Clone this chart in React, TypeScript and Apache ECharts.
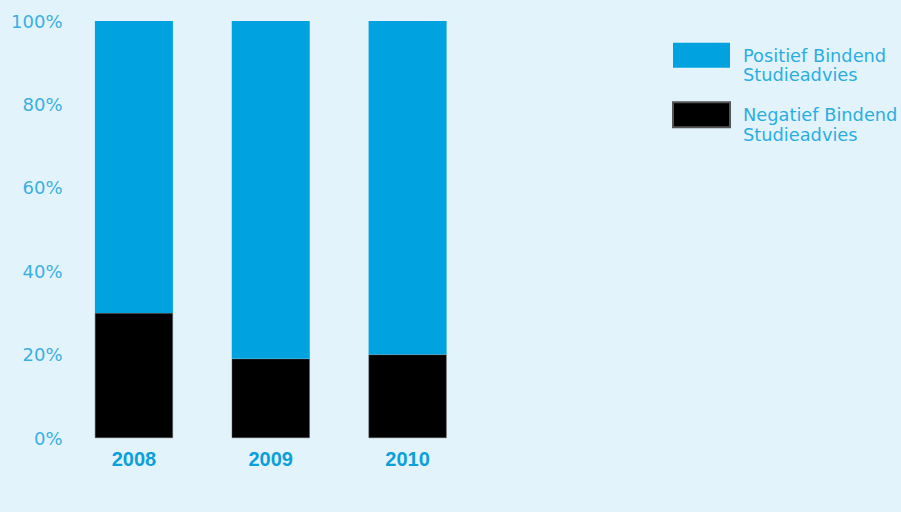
import React, { useEffect, useRef } from "react";
import * as echarts from "echarts";

const years = ["2008", "2009", "2010"];
const negatief = [30, 19, 20];
const positief = [70, 81, 80];
const yTicks = [0, 20, 40, 60, 80, 100];
const seriesNames = ["Positief Bindend\nStudieadvies", "Negatief Bindend\nStudieadvies"];

export default function App() {
  const ref = useRef<HTMLDivElement>(null);
  useEffect(() => {
    document.body.style.margin = "0";
    const chart = echarts.init(ref.current!, undefined, { renderer: "svg" });
    chart.setOption({
      animation: false,
      backgroundColor: "#e3f3fb",
      textStyle: { fontFamily: "DejaVu Sans, sans-serif" },
      grid: { left: 65.5, right: 425, top: 21, bottom: 74 },
      legend: {
        data: [seriesNames[0], seriesNames[1]],
        orient: "vertical",
        left: 672,
        top: 26,
        padding: 0,
        itemWidth: 57,
        itemHeight: 25,
        itemGap: 1,
        icon: "rect",
        formatter: (name: string) => "\n" + name,
        textStyle: {
          color: "#2aaee2",
          fontSize: 17.8,
          lineHeight: 19.5,
          fontFamily: "DejaVu Sans, sans-serif",
          padding: [0, 0, 0, 8],
        },
      },
      xAxis: {
        type: "category",
        data: years,
        axisLine: { show: false },
        axisTick: { show: false },
        axisLabel: {
          color: "#0aa0dc",
          fontSize: 20,
          fontWeight: "bold",
          fontFamily: "Liberation Sans, Arial, sans-serif",
          margin: 11,
        },
      },
      yAxis: {
        type: "value",
        min: 0,
        max: 100,
        interval: 20,
        axisLine: { show: false },
        axisTick: { show: false },
        splitLine: { show: false },
        axisLabel: {
          color: "#3ab0e0",
          fontSize: 18,
          margin: 3,
          formatter: (v: number) => (yTicks.includes(v) ? v + "%" : ""),
        },
      },
      series: [
        {
          name: seriesNames[1],
          type: "bar",
          stack: "a",
          barWidth: 78,
          data: negatief,
          itemStyle: { color: "#000000", borderColor: "#555555", borderWidth: 0.5 },
        },
        {
          name: seriesNames[0],
          type: "bar",
          stack: "a",
          barWidth: 78,
          data: positief,
          itemStyle: { color: "#00a3e0" },
        },
      ],
    });
    return () => chart.dispose();
  }, []);
  return <div ref={ref} style={{ width: 901, height: 512 }} />;
}
